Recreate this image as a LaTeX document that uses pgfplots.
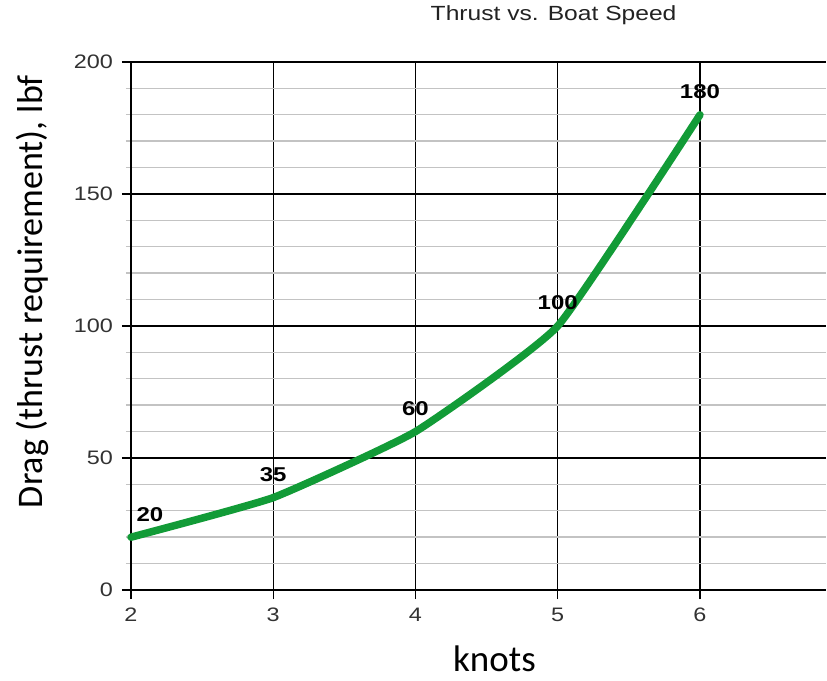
\documentclass[border=0pt]{standalone}
\usepackage{pgfplots}
\pgfplotsset{compat=1.18}
\usepackage{fontspec}
\setmainfont{Liberation Sans}
\newfontfamily\arialx[FakeStretch=1.2]{Liberation Sans}
\newfontfamily\calib{Carlito}
\definecolor{lgreen}{RGB}{18,155,55}
\definecolor{mgray}{RGB}{195,195,195}
\definecolor{tgray}{RGB}{50,50,50}
\pgfplotstableread{
x y
2 20
3 35
4 60
5 100
6 180
}\thrust
\pgfplotstableread{
x y
2 20
}\first
\pgfplotstableread{
x y
3 35
4 60
5 100
6 180
}\rest
\begin{document}
\begin{tikzpicture}
\path[use as bounding box] (-131pt,-90pt) rectangle (696pt,590pt);
\begin{axis}[
  at={(0pt,0pt)}, anchor=south west,
  scale only axis, width=695pt, height=528pt,
  xmin=2, xmax=6.886, ymin=0, ymax=200,
  xtick={2,3,4,5,6}, ytick={0,50,100,150,200},
  minor y tick num=4,
  axis x line*=bottom, axis y line*=left,
  axis line style={-, black, line width=1.3pt},
  grid=both,
  major grid style={black, line width=1.2pt},
  minor grid style={mgray, line width=1.4pt},
  tick align=outside,
  major tick length=9pt, minor tick length=5pt,
  major tick style={black, line width=1.2pt},
  minor tick style={mgray, line width=1.4pt},
  /pgf/number format/assume math mode=true,
  ticklabel style={font=\arialx\fontsize{19.5}{22}\selectfont, text=tgray},
  yticklabel style={anchor=east, inner sep=0pt, xshift=-9pt},
  xticklabel style={anchor=north, inner sep=0pt, yshift=-9pt},
  title={Thrust vs. Boat Speed},
  title style={font=\arialx\fontsize{20.5}{24}\selectfont, text={rgb,255:red,34;green,34;blue,34}, at={(axis description cs:0.608,1.068)}, anchor=base},
  xlabel={knots},
  xlabel style={font=\calib\fontsize{37}{42}\selectfont, at={(axis description cs:0.523,-0.154)}, anchor=base},
  ylabel={Drag (thrust requirement), lbf},
  ylabel style={font=\calib\fontsize{36}{42}\selectfont, at={(axis description cs:-0.127,0.565)}, anchor=base, rotate=0},
  clip=false,
]
\addplot[draw=none, mark=none, nodes near coords, point meta=explicit symbolic,
  nodes near coords style={font=\arialx\bfseries\fontsize{20}{22}\selectfont, anchor=center, yshift=23pt, xshift=19pt}]
  table[x=x, y=y, meta=y] {\first};
\addplot[draw=none, mark=none, nodes near coords, point meta=explicit symbolic,
  nodes near coords style={font=\arialx\bfseries\fontsize{20}{22}\selectfont, anchor=center, yshift=23pt}]
  table[x=x, y=y, meta=y] {\rest};
\addplot[lgreen, line width=7.5pt, line cap=round, line join=round, smooth, tension=0.25, mark=none]
  table[x=x, y=y] {\thrust};
\end{axis}
\end{tikzpicture}
\end{document}
